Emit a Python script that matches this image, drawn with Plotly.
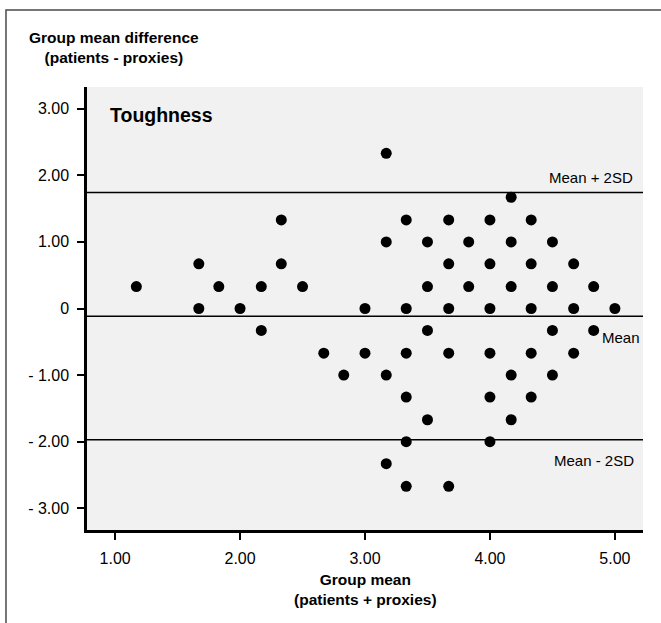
import plotly.graph_objects as go

# Data (Bland-Altman plot, "Toughness")
group_mean = [1.17, 1.67, 1.67, 1.83, 2.00, 2.17, 2.17, 2.33, 2.33, 2.50, 2.67, 2.83,
              3.00, 3.00, 3.17, 3.17, 3.17, 3.17,
              3.33, 3.33, 3.33, 3.33, 3.33, 3.33,
              3.50, 3.50, 3.50, 3.50,
              3.67, 3.67, 3.67, 3.67, 3.67,
              3.83, 3.83,
              4.00, 4.00, 4.00, 4.00, 4.00, 4.00,
              4.17, 4.17, 4.17, 4.17, 4.17,
              4.33, 4.33, 4.33, 4.33, 4.33,
              4.50, 4.50, 4.50, 4.50,
              4.67, 4.67, 4.67,
              4.83, 4.83,
              5.00]
group_diff = [0.33, 0.67, 0.00, 0.33, 0.00, 0.33, -0.33, 1.33, 0.67, 0.33, -0.67, -1.00,
              0.00, -0.67, 2.33, 1.00, -1.00, -2.33,
              1.33, 0.00, -0.67, -1.33, -2.00, -2.67,
              1.00, 0.33, -0.33, -1.67,
              1.33, 0.67, 0.00, -0.67, -2.67,
              1.00, 0.33,
              1.33, 0.67, 0.00, -0.67, -1.33, -2.00,
              1.67, 1.00, 0.33, -1.00, -1.67,
              1.33, 0.67, 0.00, -0.67, -1.33,
              1.00, 0.33, -0.33, -1.00,
              0.67, 0.00, -0.67,
              0.33, -0.33,
              0.00]

mean_diff = -0.115
upper_limit = 1.74
lower_limit = -1.97

x_tickvals = [1, 2, 3, 4, 5]
x_ticktext = ["1.00", "2.00", "3.00", "4.00", "5.00"]
y_tickvals = [3, 2, 1, 0, -1, -2, -3]
y_ticktext = ["3.00", "2.00", "1.00", "0", "- 1.00", "- 2.00", "- 3.00"]

FONT = "Arial, 'Liberation Sans', Helvetica, sans-serif"

fig = go.Figure()
fig.add_trace(go.Scatter(
    x=group_mean, y=group_diff, mode="markers",
    marker=dict(color="black", size=11, line=dict(width=0)),
    showlegend=False, cliponaxis=False,
))

# reference lines
for val in [upper_limit, mean_diff, lower_limit]:
    fig.add_shape(type="line", xref="paper", x0=0, x1=1, yref="y", y0=val, y1=val,
                  line=dict(color="black", width=1.5), layer="below")

# outer frame (left and top edges visible)
fig.add_shape(type="rect", xref="paper", yref="paper",
              x0=-0.1457, x1=1.3, y0=-0.5, y1=1.174,
              line=dict(color="#4a4a4a", width=1.5), fillcolor="rgba(0,0,0,0)")

annotations = [
    dict(text="<b>Toughness</b>", xref="paper", yref="paper", x=0.038, y=0.937,
         xanchor="left", yanchor="middle", showarrow=False,
         font=dict(size=19.5, color="black", family=FONT)),
    dict(text="Mean + 2SD", xref="paper", yref="y", x=0.986, y=upper_limit,
         xanchor="right", yanchor="middle", yshift=15, showarrow=False,
         font=dict(size=15, color="black", family=FONT)),
    dict(text="Mean", xref="paper", yref="y", x=0.998, y=mean_diff,
         xanchor="right", yanchor="middle", yshift=-21, showarrow=False,
         font=dict(size=15, color="black", family=FONT)),
    dict(text="Mean - 2SD", xref="paper", yref="y", x=0.988, y=lower_limit,
         xanchor="right", yanchor="middle", yshift=-21, showarrow=False,
         font=dict(size=15, color="black", family=FONT)),
    dict(text="<b>Group mean difference</b><br><b>(patients - proxies)</b>",
         xref="paper", yref="paper", x=0.0486, y=1.089, xanchor="center", yanchor="middle",
         align="center", showarrow=False,
         font=dict(size=15.5, color="black", family=FONT)),
    dict(text="<b>Group mean</b><br><b>(patients + proxies)</b>",
         xref="paper", yref="paper", x=0.5, y=-0.135, xanchor="center", yanchor="middle",
         align="center", showarrow=False,
         font=dict(size=15.5, color="black", family=FONT)),
]

fig.update_layout(
    width=661, height=623,
    margin=dict(l=87, r=18, t=87, b=93),
    paper_bgcolor="white", plot_bgcolor="#f1f1f1",
    font=dict(family=FONT, color="black"),
    annotations=annotations,
    xaxis=dict(range=[0.775, 5.225], tickvals=x_tickvals, ticktext=x_ticktext,
               showgrid=False, zeroline=False, showline=True, linecolor="black", linewidth=2.5,
               ticks="outside", ticklen=7, tickwidth=1.5, tickcolor="black",
               tickfont=dict(size=16, family=FONT, color="black"), ticklabelstandoff=5),
    yaxis=dict(range=[-3.325, 3.325], tickvals=y_tickvals, ticktext=y_ticktext,
               showgrid=False, zeroline=False, showline=True, linecolor="black", linewidth=2.5,
               ticks="outside", ticklen=7, tickwidth=1.5, tickcolor="black",
               tickfont=dict(size=16, family=FONT, color="black"), ticklabelstandoff=5),
)

fig.write_html("out.html", config={"displayModeBar": False},
               post_script="document.body.style.margin='0';document.body.style.overflow='hidden';")
